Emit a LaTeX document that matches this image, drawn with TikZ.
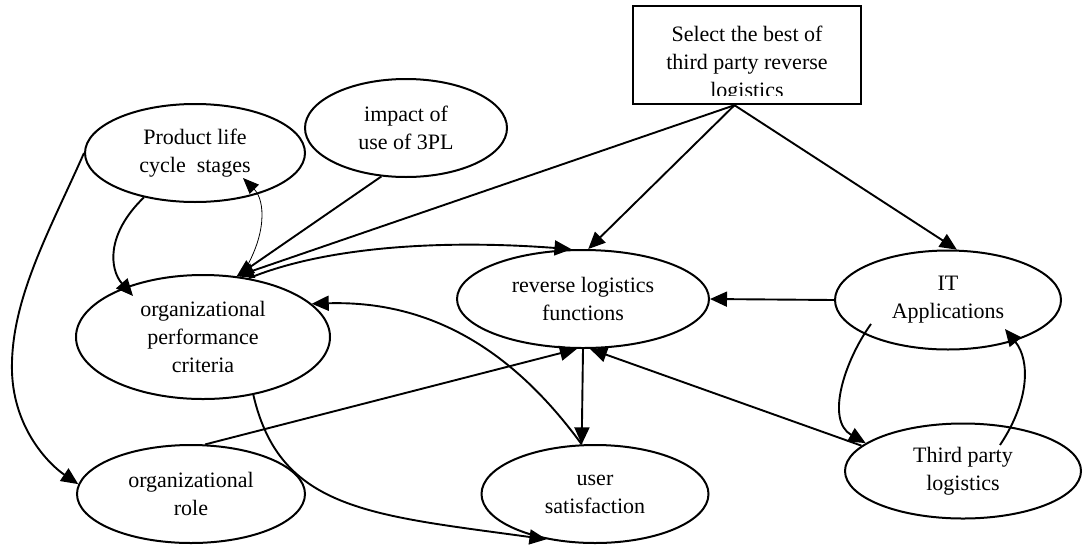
\documentclass[tikz,border=0pt]{standalone}
\usepackage{fontspec}
\setmainfont{Liberation Serif}
\usetikzlibrary{arrows.meta,shapes.geometric,calc}
\begin{document}
\begin{tikzpicture}[x=1pt,y=-1pt,
  every node/.style={font=\fontsize{22}{28}\selectfont, align=center},
  oval/.style={draw, ellipse, line width=2pt, inner sep=0pt},
  conn/.style={line width=1.9pt, -{Triangle[length=17pt,width=15pt]}},
  thinconn/.style={line width=0.8pt, -{Triangle[length=16pt,width=13pt]}}]
\useasboundingbox[fill=white] (0,0) rectangle (1083,544);

% nodes
\node[oval, minimum width=220pt, minimum height=98pt] (prod) at (195,153) {Product life\\cycle~ stages};
\node[oval, minimum width=202pt, minimum height=98pt] (impact) at (406,128) {impact of\\use of 3PL};
\node[oval, minimum width=254pt, minimum height=124pt] (opc) at (203,337) {organizational\\performance\\criteria};
\node[oval, minimum width=228pt, minimum height=98pt] (role) at (191,494) {organizational\\role};
\node[oval, minimum width=252pt, minimum height=98pt] (rlf) at (583,299) {reverse logistics\\functions};
\node[oval, minimum width=226pt, minimum height=99pt] (it) at (948,300) {IT\\Applications};
\node[oval, minimum width=227pt, minimum height=98pt] (us) at (595,494) {user\\satisfaction};
\node[oval, minimum width=236pt, minimum height=95pt] (tpl) at (963,471) {Third party\\logistics};

\begin{scope}
\clip (633,0) rectangle (861,95);
\node (boxtext) at (747,64) {Select the best of\\third party reverse\\logistics};
\end{scope}
\node[draw, line width=2.4pt, minimum width=228pt, minimum height=98pt, inner sep=0pt] (box) at (747,55) {};

% connectors
\draw[conn] (box.256) -- (opc.61);
\draw[conn] (impact.-117) -- (opc.61);
\draw[thinconn] (opc.58) .. controls (268,235) and (265,200) .. ($(prod.center)+(48,25)$);
\draw[conn] (opc.52) .. controls (330,245) and (450,240) .. (rlf.103);
\draw[conn] (box.256) -- (rlf.84);
\draw[conn] (box.256) -- (it.80);
\draw[conn] (it.west) -- (rlf.east);
\draw[conn] ($(it.center)+(-77,24)$) .. controls (845,360) and (825,420) .. (tpl.164);
\draw[conn] ($(tpl.center)+(37,-26)$) .. controls (1030,400) and (1030,360) .. ($(it.center)+(57,29)$);
\draw[conn] (tpl.166) -- (rlf.-82.5);
\draw[conn] (role.74) -- (rlf.-97.5);
\draw[conn] (rlf.south) -- (us.105);
\draw[conn] (us.105) .. controls (520,360) and (440,300) .. (opc.17.5);
\draw[conn] (opc.-49) .. controls (280,510) and (370,515) .. (us.-137);
\draw[conn] (prod.west) .. controls (50,230) and (10,300) .. (12,372) .. controls (14,430) and (50,465) .. (role.175);
\draw[conn] (prod.-139) .. controls (105,235) and (110,270) .. ($(opc.center)+(-70,-41)$);
\end{tikzpicture}
\end{document}
